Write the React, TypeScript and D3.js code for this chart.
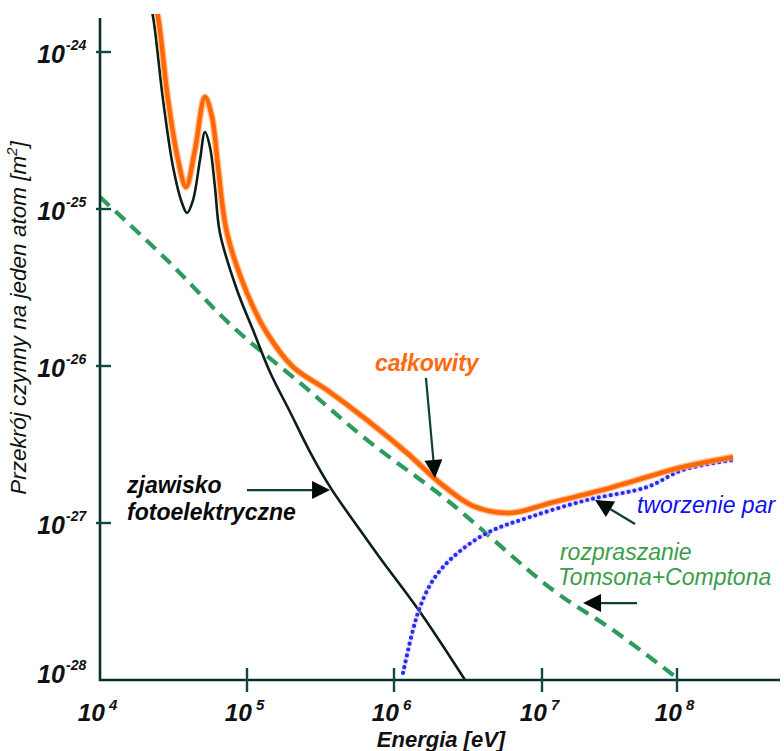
import React, { useRef, useEffect } from 'react';
import * as d3 from 'd3';

// decades on the axes (log10)
const xDecades = [4, 5, 6, 7, 8];
const yDecades = [-24, -25, -26, -27, -28];

// zjawisko fotoelektryczne: log10 E [eV], log10 sigma [m2]
const photoLogE = [4.34, 4.361, 4.429, 4.497, 4.558, 4.592, 4.633, 4.68, 4.714, 4.748, 4.782, 4.816, 4.932, 5.041, 5.156, 5.293, 5.429, 5.565, 5.769, 5.905, 6.176, 6.48];
const photoLogS = [-23.7, -23.777, -24.306, -24.732, -24.962, -25.025, -24.943, -24.688, -24.51, -24.605, -24.86, -25.153, -25.516, -25.771, -26.038, -26.293, -26.548, -26.77, -27.045, -27.223, -27.567, -28.0];

// rozpraszanie Tomsona + Comptona
const comptonLogE = [4, 4.456, 4.905, 5.361, 5.816, 6.358, 7.081, 7.526, 8.0];
const comptonLogS = [-24.924, -25.325, -25.752, -26.108, -26.471, -26.854, -27.427, -27.682, -27.987];

// tworzenie par
const pairLogE = [6.061, 6.128, 6.176, 6.264, 6.399, 6.628, 6.919, 7.333, 7.778, 8.044, 8.415];
const pairLogS = [-27.955, -27.682, -27.535, -27.363, -27.217, -27.064, -26.962, -26.854, -26.771, -26.662, -26.599];

// całkowity
const totalLogE = [4.374, 4.395, 4.463, 4.531, 4.585, 4.646, 4.714, 4.762, 4.803, 4.864, 5.0, 5.136, 5.313, 5.544, 5.816, 6.088, 6.311, 6.534, 6.784, 7.059, 7.526, 8.044, 8.415];
const totalLogS = [-23.701, -23.777, -24.306, -24.688, -24.86, -24.624, -24.287, -24.414, -24.732, -25.153, -25.535, -25.79, -26.006, -26.153, -26.344, -26.554, -26.745, -26.892, -26.936, -26.873, -26.771, -26.643, -26.58];

const W = 784;
const H = 751;
const FONT = '"Liberation Sans", Arial, Helvetica, sans-serif';

const App = () => {
  const svgRef = useRef<SVGSVGElement>(null);

  useEffect(() => {
    const svg = d3.select(svgRef.current);
    svg.selectAll('*').remove();

    const x = d3.scaleLog()
      .domain(xDecades.map(d => Math.pow(10, d)))
      .range([100, 247, 394, 542, 677]);
    const y = d3.scaleLog()
      .domain([1e-24, 1e-28])
      .range([52, 680]);

    const px = (le: number) => x(Math.pow(10, le));
    const py = (ls: number) => y(Math.pow(10, ls));

    const toPts = (es: number[], ss: number[]) => es.map((e, i) => [e, ss[i]] as [number, number]);
    const line = d3.line<[number, number]>()
      .x(d => px(d[0]))
      .y(d => py(d[1]))
      .curve(d3.curveCatmullRom.alpha(0.5));

    svg.append('defs').append('clipPath').attr('id', 'plot-clip')
      .append('rect').attr('x', 100).attr('y', 14).attr('width', W - 100).attr('height', 680 - 14);

    const plot = svg.append('g').attr('clip-path', 'url(#plot-clip)');

    // Thomson + Compton (green dashed)
    plot.append('path')
      .attr('d', line(toPts(comptonLogE, comptonLogS)))
      .attr('fill', 'none')
      .attr('stroke', '#2f9a5e')
      .attr('stroke-width', 4.2)
      .attr('stroke-dasharray', '13 8');

    // photoelectric (black)
    plot.append('path')
      .attr('d', line(toPts(photoLogE, photoLogS)))
      .attr('fill', 'none')
      .attr('stroke', '#0b1f18')
      .attr('stroke-width', 2.6);

    // pair production (blue dotted)
    const pairD = line(toPts(pairLogE, pairLogS));
    plot.append('path')
      .attr('d', pairD)
      .attr('fill', 'none')
      .attr('stroke', '#f2a6ee')
      .attr('stroke-width', 5)
      .attr('opacity', 0.45);
    plot.append('path')
      .attr('d', pairD)
      .attr('fill', 'none')
      .attr('stroke', '#1234f5')
      .attr('stroke-width', 4.2)
      .attr('stroke-linecap', 'round')
      .attr('stroke-dasharray', '0 6');

    // total (orange)
    const totalD = line(toPts(totalLogE, totalLogS));
    plot.append('path')
      .attr('d', totalD)
      .attr('fill', 'none')
      .attr('stroke', '#ffa860')
      .attr('stroke-width', 7)
      .attr('opacity', 0.7);
    plot.append('path')
      .attr('d', totalD)
      .attr('fill', 'none')
      .attr('stroke', '#ff6608')
      .attr('stroke-width', 4.4);

    // axes
    const axisColor = '#05302b';
    svg.append('line')
      .attr('x1', 100).attr('x2', 100).attr('y1', 18).attr('y2', 681)
      .attr('stroke', axisColor).attr('stroke-width', 2.6);
    svg.append('line')
      .attr('x1', 99).attr('x2', 780).attr('y1', 680).attr('y2', 680)
      .attr('stroke', axisColor).attr('stroke-width', 2.6);

    const tickColor = '#0d4a43';
    yDecades.slice(0, -1).forEach(d => {
      svg.append('line')
        .attr('x1', 96).attr('x2', 111)
        .attr('y1', py(d)).attr('y2', py(d))
        .attr('stroke', tickColor).attr('stroke-width', 2.4);
    });
    xDecades.slice(1).forEach(d => {
      svg.append('line')
        .attr('x1', px(d)).attr('x2', px(d))
        .attr('y1', 668).attr('y2', 692)
        .attr('stroke', tickColor).attr('stroke-width', 2.4);
    });

    // y tick labels
    yDecades.forEach((d, i) => {
      const last = i === yDecades.length - 1;
      const base = py(d) + (last ? 3 : 11);
      svg.append('text')
        .attr('x', 65).attr('y', base)
        .attr('text-anchor', 'end')
        .attr('font-family', FONT).attr('font-size', 25)
        .attr('font-weight', 'bold').attr('font-style', 'italic')
        .attr('fill', '#111')
        .text('10');
      svg.append('text')
        .attr('x', 66).attr('y', base - 13)
        .attr('font-family', FONT).attr('font-size', 14)
        .attr('font-weight', 'bold').attr('font-style', 'italic')
        .attr('fill', '#111')
        .text(String(d));
    });

    // x tick labels
    xDecades.forEach(d => {
      svg.append('text')
        .attr('x', px(d) + 5).attr('y', 721)
        .attr('text-anchor', 'end')
        .attr('font-family', FONT).attr('font-size', 24.5)
        .attr('font-weight', 'bold').attr('font-style', 'italic')
        .attr('fill', '#111')
        .text('10');
      svg.append('text')
        .attr('x', px(d) + 9).attr('y', 710)
        .attr('font-family', FONT).attr('font-size', 15)
        .attr('font-weight', 'bold').attr('font-style', 'italic')
        .attr('fill', '#111')
        .text(String(d));
    });

    // axis titles
    svg.append('text')
      .attr('x', 441).attr('y', 747)
      .attr('text-anchor', 'middle')
      .attr('font-family', FONT).attr('font-size', 22)
      .attr('font-weight', 'bold').attr('font-style', 'italic')
      .attr('fill', '#111')
      .text('Energia [eV]');

    const yTitle = svg.append('text')
      .attr('transform', 'translate(26,318) rotate(-90)')
      .attr('text-anchor', 'middle')
      .attr('font-family', FONT).attr('font-size', 22.5)
      .attr('font-style', 'italic')
      .attr('fill', '#111');
    yTitle.append('tspan').text('Przekrój czynny na jeden atom [m');
    yTitle.append('tspan').attr('dy', -9).attr('font-size', 15).text('2');
    yTitle.append('tspan').attr('dy', 9).text(']');

    // annotations (positions in data space)
    const arrow = (e0: number, s0: number, e1: number, s1: number) => {
      const x0 = px(e0), y0 = py(s0), x1 = px(e1), y1 = py(s1);
      const len = Math.hypot(x1 - x0, y1 - y0);
      const ux = (x1 - x0) / len, uy = (y1 - y0) / len;
      const hl = 18, hw = 9;
      const bx = x1 - ux * hl, by = y1 - uy * hl;
      svg.append('line')
        .attr('x1', x0).attr('y1', y0).attr('x2', bx).attr('y2', by)
        .attr('stroke', '#0e3f38').attr('stroke-width', 2.2);
      svg.append('path')
        .attr('d', `M${x1},${y1}L${bx - uy * hw},${by + ux * hw}L${bx + uy * hw},${by - ux * hw}Z`)
        .attr('fill', '#020a08');
    };
    arrow(6.216, -26.076, 6.277, -26.713);
    arrow(7.689, -27.006, 7.393, -26.854);
    arrow(7.704, -27.51, 7.304, -27.51);
    arrow(5.0, -26.79, 5.565, -26.79);

    const label = (e: number, s: number, txt: string, color: string, bold: boolean) => {
      svg.append('text')
        .attr('x', px(e)).attr('y', py(s))
        .attr('font-family', FONT).attr('font-size', 23)
        .attr('font-weight', bold ? 'bold' : 'normal')
        .attr('font-style', 'italic')
        .attr('fill', color)
        .text(txt);
    };
    label(5.871, -26.032, 'całkowity', '#ff6a10', true);
    label(7.704, -26.936, 'tworzenie par', '#1010e8', false);
    label(7.133, -27.236, 'rozpraszanie', '#3a9e4a', false);
    label(7.118, -27.395, 'Tomsona+Comptona', '#3a9e4a', false);
    label(4.184, -26.809, 'zjawisko', '#0a0a0a', true);
    label(4.184, -26.981, 'fotoelektryczne', '#0a0a0a', true);
  }, []);

  return (
    <svg
      ref={svgRef}
      width={W}
      height={H}
      style={{ position: 'absolute', left: 0, top: 0, background: '#fff', display: 'block' }}
    />
  );
};

export default App;
